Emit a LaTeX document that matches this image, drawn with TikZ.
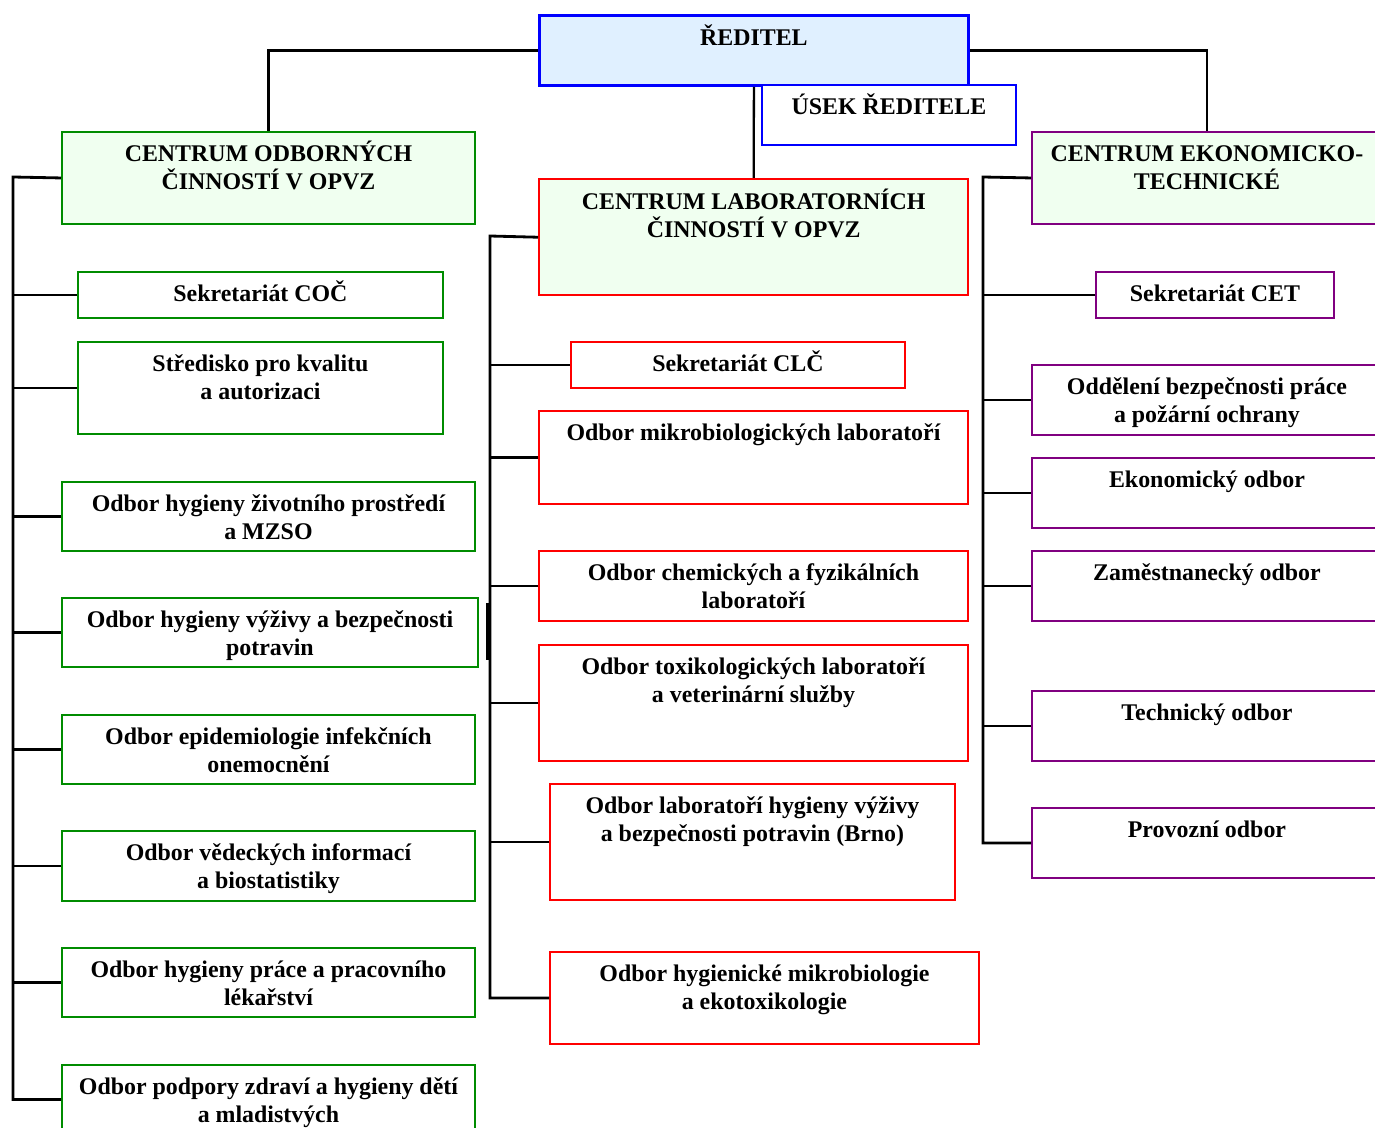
\documentclass[tikz,border=0pt]{standalone}
\usepackage{fontspec}
\setmainfont{Liberation Serif}
\definecolor{headfill}{RGB}{224,240,255}
\definecolor{centerfill}{RGB}{240,255,240}
\definecolor{cocgreen}{RGB}{0,140,0}
\definecolor{cetpurple}{RGB}{128,0,128}
\newlength\px
\setlength\px{0.02cm}
% box text: width, height, text (first line near the top)
\newcommand{\boxtext}[3]{\parbox[c][#2\px][t]{#1\px}{\centering\rule{0pt}{30\px}#3}}
\tikzset{
  unit/.style={draw=#1, line width=1.1pt, inner sep=0pt, anchor=north west,
    font=\fontsize{13.6}{15.9}\selectfont\bfseries},
  link/.style={line width=1.3pt},
  trunk/.style={line width=1.6pt},
}
\begin{document}
\begin{tikzpicture}[x=0.02cm, y=-0.02cm]
\useasboundingbox (0,0) rectangle (1375,1128);
\clip (0,0) rectangle (1375,1128);

% top level
\node[unit=blue, fill=headfill, line width=1.6pt] (reditel) at (538,14) {\boxtext{429}{70}{ŘEDITEL}};
\node[unit=blue, fill=white] (usek) at (761,84) {\boxtext{254}{60}{ÚSEK ŘEDITELE}};

% centres
\node[unit=cocgreen, fill=centerfill] (coc) at (61,131) {\boxtext{413}{92}{CENTRUM ODBORNÝCH\\ČINNOSTÍ V OPVZ}};
\node[unit=red, fill=centerfill, line width=1.4pt] (clc) at (538,178) {\boxtext{429}{116}{CENTRUM LABORATORNÍCH\\ČINNOSTÍ V OPVZ}};
\node[unit=cetpurple, fill=centerfill] (cet) at (1031,131) {\boxtext{350}{92}{CENTRUM EKONOMICKO-\\TECHNICKÉ}};

% left column
\node[unit=cocgreen] (sekcoc) at (77,271) {\boxtext{365}{46}{Sekretariát COČ}};
\node[unit=cocgreen] (stredisko) at (77,341) {\boxtext{365}{92}{Středisko pro kvalitu\\a autorizaci}};
\node[unit=cocgreen] (zivotni) at (61,481) {\boxtext{413}{69}{Odbor hygieny životního prostředí\\a MZSO}};
\node[unit=cocgreen] (vyziva) at (61,597) {\boxtext{416}{69}{Odbor hygieny výživy a bezpečnosti\\potravin}};
\node[unit=cocgreen] (epidem) at (61,714) {\boxtext{413}{69}{Odbor epidemiologie infekčních\\onemocnění}};
\node[unit=cocgreen] (vedinf) at (61,830) {\boxtext{413}{70}{Odbor vědeckých informací\\a biostatistiky}};
\node[unit=cocgreen] (prace) at (61,947) {\boxtext{413}{69}{Odbor hygieny práce a pracovního\\lékařství}};
\node[unit=cocgreen] (podpora) at (61,1064) {\boxtext{413}{69}{Odbor podpory zdraví a hygieny dětí\\a mladistvých}};

% middle column
\node[unit=red] (sekclc) at (570,341) {\boxtext{334}{46}{Sekretariát CLČ}};
\node[unit=red] (mikrobio) at (538,410) {\boxtext{429}{93}{Odbor mikrobiologických laboratoří}};
\node[unit=red] (chem) at (538,550) {\boxtext{429}{70}{Odbor chemických a fyzikálních\\laboratoří}};
\node[unit=red] (toxi) at (538,644) {\boxtext{429}{116}{Odbor toxikologických laboratoří\\a veterinární služby}};
\node[unit=red] (labhyg) at (549,783) {\boxtext{405}{116}{Odbor laboratoří hygieny výživy\\a bezpečnosti potravin (Brno)}};
\node[unit=red] (hygmikro) at (549,951) {\boxtext{429}{92}{Odbor hygienické mikrobiologie\\a ekotoxikologie}};

% right column
\node[unit=cetpurple] (sekcet) at (1095,271) {\boxtext{238}{46}{Sekretariát CET}};
\node[unit=cetpurple] (bozp) at (1031,364) {\boxtext{350}{70}{Oddělení bezpečnosti práce\\a požární ochrany}};
\node[unit=cetpurple] (ekon) at (1031,457) {\boxtext{350}{70}{Ekonomický odbor}};
\node[unit=cetpurple] (zam) at (1031,550) {\boxtext{350}{70}{Zaměstnanecký odbor}};
\node[unit=cetpurple] (tech) at (1031,690) {\boxtext{350}{70}{Technický odbor}};
\node[unit=cetpurple] (provoz) at (1031,807) {\boxtext{350}{70}{Provozní odbor}};

% director links
\draw[link] (reditel.west) -| (coc.north);
\draw[link] (reditel.east) -| (cet.north);
\draw[link] (reditel.south) -- (clc.north);

% trunks
\coordinate (ltrunk) at (13,177);
\coordinate (ctrunk) at (490,236);
\coordinate (rtrunk) at (983,177);
\draw[trunk] (coc.west) -- (ltrunk) |- (podpora.west);
\draw[trunk] (clc.west) -- (ctrunk) |- (hygmikro.west);
\draw[trunk] (cet.west) -- (rtrunk) |- (provoz.west);
\draw[line width=2.4pt] (488,603) -- (488,660);

% branches
\foreach \n in {sekcoc,stredisko,zivotni,vyziva,epidem,vedinf,prace}
  \draw[link] (\n.west) -- (\n.west -| ltrunk);
\foreach \n in {sekclc,mikrobio,chem,toxi,labhyg}
  \draw[link] (\n.west) -- (\n.west -| ctrunk);
\foreach \n in {sekcet,bozp,ekon,zam,tech}
  \draw[link] (\n.west) -- (\n.west -| rtrunk);
\end{tikzpicture}
\end{document}
